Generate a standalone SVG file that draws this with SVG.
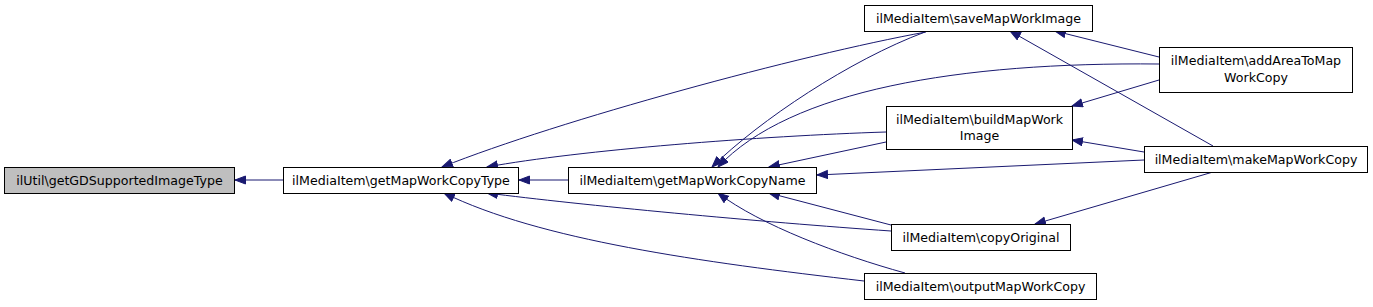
<svg xmlns="http://www.w3.org/2000/svg" width="1373" height="307" viewBox="0 0 1373 307">
<style>
.node rect{fill:#ffffff;stroke:#000000;stroke-width:1}
.node.root rect{fill:#bfbfbf}
.node text{font-family:"DejaVu Sans",sans-serif;font-size:12.6px;fill:#000000;text-anchor:middle}
.edges path{fill:none;stroke:#191970;stroke-width:1;marker-end:url(#arr)}
</style>
<defs>
<marker id="arr" markerUnits="userSpaceOnUse" markerWidth="13" markerHeight="10" refX="11" refY="4.5" orient="auto">
<path d="M0.5,0.5 L11,4.5 L0.5,8.5 z" fill="#191970" stroke="#191970" stroke-width="1"/>
</marker>
</defs>
<rect width="1373" height="307" fill="#ffffff"/>
<g class="edges">
<path d="M283,180 L235,180"/>
<path d="M568,180 L519,180"/>
<path d="M926,32 C800,55 560,120 442,167"/>
<path d="M886,132 C760,136 580,150 487,167"/>
<path d="M891,231 C760,222 580,205 487,193"/>
<path d="M864,281 C700,262 540,240 444,193"/>
<path d="M925,32 C850,60 760,120 712,167"/>
<path d="M1159,64 C960,62 790,90 718,167"/>
<path d="M886,142 L769,167"/>
<path d="M1144,160 L817,175"/>
<path d="M891,225 L769,193"/>
<path d="M905,273 C840,255 760,225 718,193"/>
<path d="M1159,57 L1055,31"/>
<path d="M1213,146 L1010,31"/>
<path d="M1159,80 L1072,106"/>
<path d="M1144,152 L1072,140"/>
<path d="M1213,172 L1035,224"/>
</g>
<g id="node1" class="node root"><rect x="4.5" y="167.5" width="230" height="26"/><text x="119.5" y="185">ilUtil\getGDSupportedImageType</text></g>
<g id="node2" class="node"><rect x="283.5" y="167.5" width="235" height="26"/><text x="401" y="185">ilMediaItem\getMapWorkCopyType</text></g>
<g id="node3" class="node"><rect x="568.5" y="167.5" width="248" height="26"/><text x="692.5" y="185">ilMediaItem\getMapWorkCopyName</text></g>
<g id="node4" class="node"><rect x="864.5" y="5.5" width="228" height="26"/><text x="978.5" y="23">ilMediaItem\saveMapWorkImage</text></g>
<g id="node5" class="node"><rect x="886.5" y="106.5" width="186" height="43"/><text x="979.5" y="124">ilMediaItem\buildMapWork</text><text x="979.5" y="140">Image</text></g>
<g id="node6" class="node"><rect x="891.5" y="224.5" width="179" height="26"/><text x="981" y="242">ilMediaItem\copyOriginal</text></g>
<g id="node7" class="node"><rect x="864.5" y="273.5" width="232" height="26"/><text x="980.5" y="291">ilMediaItem\outputMapWorkCopy</text></g>
<g id="node8" class="node"><rect x="1159.5" y="47.5" width="193" height="45"/><text x="1256" y="65">ilMediaItem\addAreaToMap</text><text x="1256" y="82">WorkCopy</text></g>
<g id="node9" class="node"><rect x="1144.5" y="146.5" width="223" height="26"/><text x="1256" y="164">ilMediaItem\makeMapWorkCopy</text></g>
</svg>
